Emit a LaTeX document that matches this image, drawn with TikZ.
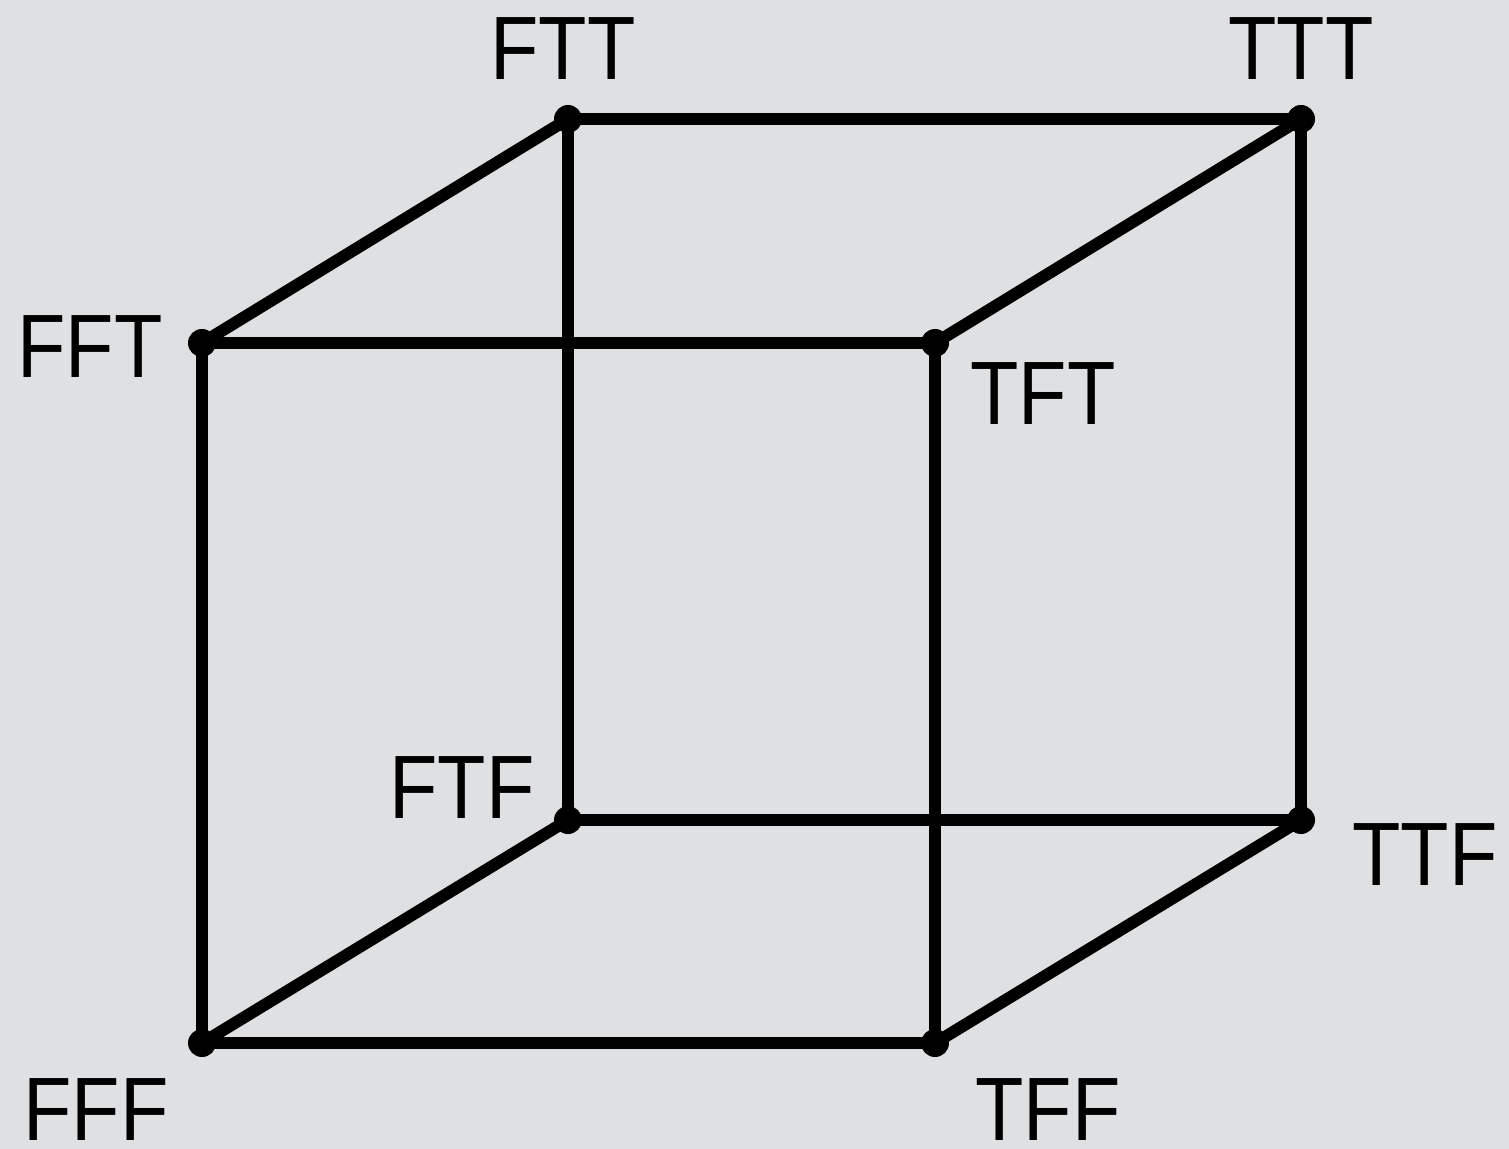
\documentclass[tikz,border=0pt]{standalone}
\usepackage{fontspec}
\setmainfont{Liberation Sans}
\definecolor{bg}{HTML}{DFE0E2}
\begin{document}
\begin{tikzpicture}[x=0.5pt,y=-0.5pt,
  vtx/.style={circle,fill=black,inner sep=0pt,minimum size=14pt},
  edge/.style={line width=6pt},
  lbl/.style={anchor=base,inner sep=0pt,font=\fontsize{45}{54}\selectfont}]
\fill[bg] (0,0) rectangle (1509,1149);
\useasboundingbox (0,0) rectangle (1509,1149);
\node[vtx] (FTT) at (568,119) {};
\node[vtx] (TTT) at (1301,119) {};
\node[vtx] (FFT) at (202,343) {};
\node[vtx] (TFT) at (935,343) {};
\node[vtx] (FTF) at (568,820) {};
\node[vtx] (TTF) at (1301,820) {};
\node[vtx] (FFF) at (202,1043) {};
\node[vtx] (TFF) at (935,1043) {};
\draw[edge] (FTT.center) -- (TTT.center);
\draw[edge] (FFT.center) -- (TFT.center);
\draw[edge] (FTF.center) -- (TTF.center);
\draw[edge] (FFF.center) -- (TFF.center);
\draw[edge] (FFT.center) -- (FTT.center);
\draw[edge] (TFT.center) -- (TTT.center);
\draw[edge] (FFF.center) -- (FTF.center);
\draw[edge] (TFF.center) -- (TTF.center);
\draw[edge] (FTT.center) -- (FTF.center);
\draw[edge] (TTT.center) -- (TTF.center);
\draw[edge] (FFT.center) -- (FFF.center);
\draw[edge] (TFT.center) -- (TFF.center);
\node[lbl] (lFTT) at (563,80) {\scalebox{0.88}[1]{FTT}};
\node[lbl] (lTTT) at (1301,80) {\scalebox{0.88}[1]{TTT}};
\node[lbl] (lFFT) at (90,378) {\scalebox{0.88}[1]{FFT}};
\node[lbl] (lTFT) at (1043,425) {\scalebox{0.88}[1]{TFT}};
\node[lbl] (lFTF) at (462,818) {\scalebox{0.88}[1]{FTF}};
\node[lbl] (lTTF) at (1425,885) {\scalebox{0.88}[1]{TTF}};
\node[lbl] (lFFF) at (96,1140) {\scalebox{0.88}[1]{FFF}};
\node[lbl] (lTFF) at (1048,1140) {\scalebox{0.88}[1]{TFF}};
\end{tikzpicture}
\end{document}
